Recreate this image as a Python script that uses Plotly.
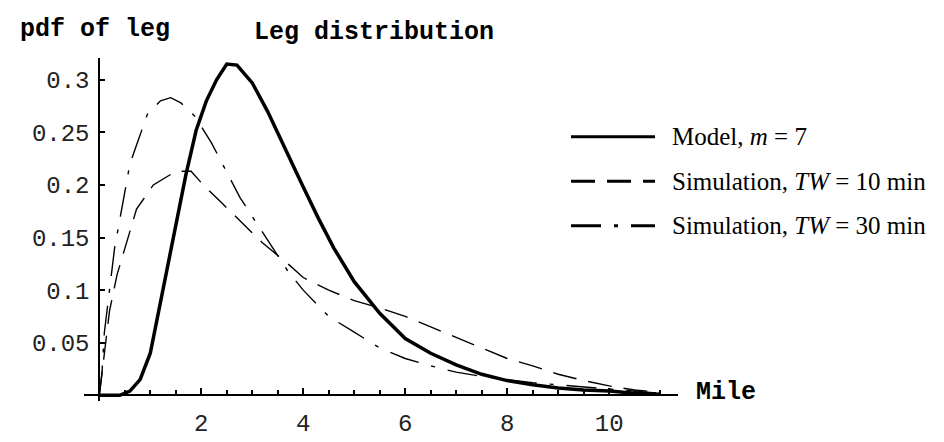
import plotly.graph_objects as go

# ---- data ----
model_x = [0, 0.4, 0.6, 0.8, 1.0, 1.2, 1.5, 1.7, 1.9, 2.1, 2.3, 2.5, 2.7, 3.0, 3.3, 3.7, 4.0, 4.3, 4.6,
           5.0, 5.5, 6.0, 6.5, 7.0, 7.5, 8.0, 8.5, 9.0, 9.5, 10.0, 10.5, 11.0]
model_y = [0, 0, 0.004, 0.015, 0.04, 0.089, 0.163, 0.21, 0.252, 0.28, 0.30, 0.315, 0.314, 0.297, 0.27,
           0.228, 0.198, 0.168, 0.14, 0.108, 0.078, 0.054, 0.04, 0.029, 0.02, 0.014, 0.01, 0.007,
           0.005, 0.004, 0.002, 0.001]

tw10_x = [0, 0.1, 0.2, 0.35, 0.5, 0.73, 1.06, 1.5, 1.8, 2.04, 2.4, 2.86, 3.2, 3.7, 4.0, 4.5, 5.0,
          5.5, 6.0, 6.5, 7.0, 7.5, 8.0, 8.5, 9.0, 9.5, 10.0, 10.5, 11.0]
tw10_y = [0, 0.04, 0.08, 0.115, 0.14, 0.177, 0.20, 0.213, 0.213, 0.20, 0.183, 0.161, 0.145, 0.125,
          0.112, 0.10, 0.09, 0.083, 0.075, 0.065, 0.055, 0.045, 0.035, 0.028, 0.02, 0.014, 0.009,
          0.005, 0.003]

tw30_x = [0, 0.05, 0.1, 0.2, 0.3, 0.47, 0.6, 0.76, 0.95, 1.2, 1.4, 1.6, 1.88, 2.2, 2.5, 2.76, 3.0,
          3.4, 3.7, 4.0, 4.5, 5.0, 5.5, 6.0, 6.5, 7.0, 7.5, 8.0, 8.5, 9.0, 9.5, 10.0, 10.5, 11.0]
tw30_y = [0, 0.02, 0.06, 0.10, 0.14, 0.185, 0.22, 0.242, 0.268, 0.28, 0.283, 0.278, 0.265, 0.24,
          0.212, 0.188, 0.17, 0.14, 0.118, 0.10, 0.075, 0.06, 0.045, 0.035, 0.028, 0.022, 0.018,
          0.015, 0.012, 0.01, 0.008, 0.006, 0.004, 0.002]

x_tick_vals = [2, 4, 6, 8, 10]
x_tick_text = ["2", "4", "6", "8", "10"]
y_tick_vals = [0.05, 0.1, 0.15, 0.2, 0.25, 0.3]
y_tick_text = ["0.05", "0.1", "0.15", "0.2", "0.25", "0.3"]

series_names = ["Model, <i>m</i> = 7",
                "Simulation, <i>TW</i> = 10 min",
                "Simulation, <i>TW</i> = 30 min"]
series_dash = ["solid", "24px,12px", "30px,13px,4px,13px"]

# ---- figure geometry ----
W, H = 944, 442
ML, MR, MT, MB = 76, 274, 50, 30
XR = [-0.3, 11.35]
YR = [-0.0054, 0.3207]
PW = W - ML - MR
PH = H - MT - MB

def px_x(p):
    return (p - ML) / PW

def px_y(p):
    return (H - MB - p) / PH

mono = "Liberation Mono"
serif = "Liberation Serif"

fig = go.Figure()
fig.add_trace(go.Scatter(x=model_x, y=model_y, mode="lines",
                         line=dict(color="black", width=3.5), name=series_names[0]))
fig.add_trace(go.Scatter(x=tw10_x, y=tw10_y, mode="lines",
                         line=dict(color="black", width=1.4, dash=series_dash[1]), name=series_names[1]))
fig.add_trace(go.Scatter(x=tw30_x, y=tw30_y, mode="lines",
                         line=dict(color="black", width=1.4, dash=series_dash[2]), name=series_names[2]))

x_pos = (0 - YR[0]) / (YR[1] - YR[0])
y_pos = (0 - XR[0]) / (XR[1] - XR[0])

fig.update_layout(
    width=W, height=H,
    margin=dict(l=ML, r=MR, t=MT, b=MB),
    paper_bgcolor="white", plot_bgcolor="white",
    showlegend=False,
    xaxis=dict(range=XR, anchor="free", position=x_pos, showline=True, linecolor="black",
               linewidth=2, showgrid=False, zeroline=False,
               tickmode="array", tickvals=x_tick_vals, ticktext=x_tick_text,
               ticks="inside", ticklen=6, tickwidth=1.5, tickcolor="black",
               minor=dict(dtick=0.5, ticks="inside", ticklen=4, tickwidth=1.5, tickcolor="black"),
               tickfont=dict(family=mono, size=24, color="#222"), ticklabelstandoff=6),
    yaxis=dict(range=YR, anchor="free", position=y_pos, showline=True, linecolor="black",
               linewidth=2, showgrid=False, zeroline=False,
               tickmode="array", tickvals=y_tick_vals, ticktext=y_tick_text,
               ticks="inside", ticklen=5, tickwidth=1.5, tickcolor="black",
               tickfont=dict(family=mono, size=24, color="#222"), ticklabelstandoff=4),
)

annotations = [
    dict(text="<b>pdf of leg</b>", x=px_x(10), y=px_y(20), xanchor="left", yanchor="middle",
         font=dict(family=mono, size=25, color="black")),
    dict(text="<b>Leg distribution</b>", x=px_x(244), y=px_y(23), xanchor="left", yanchor="middle",
         font=dict(family=mono, size=25, color="black")),
    dict(text="<b>Mile</b>", x=px_x(686), y=px_y(403), xanchor="left", yanchor="middle",
         font=dict(family=mono, size=25, color="black")),
]
legend_rows = [133, 180, 227]
for name, dash, row in zip(series_names, series_dash, legend_rows):
    fig.add_shape(type="line", xref="paper", yref="paper",
                  x0=px_x(563), x1=px_x(647), y0=px_y(row), y1=px_y(row),
                  line=dict(color="black", width=3, dash=dash))
    annotations.append(dict(text=name, x=px_x(662), y=px_y(row), xanchor="left", yanchor="middle",
                            font=dict(family=serif, size=25, color="black")))

for a in annotations:
    a.update(xref="paper", yref="paper", showarrow=False)
fig.update_layout(annotations=annotations)

fig.write_html("out.html")
